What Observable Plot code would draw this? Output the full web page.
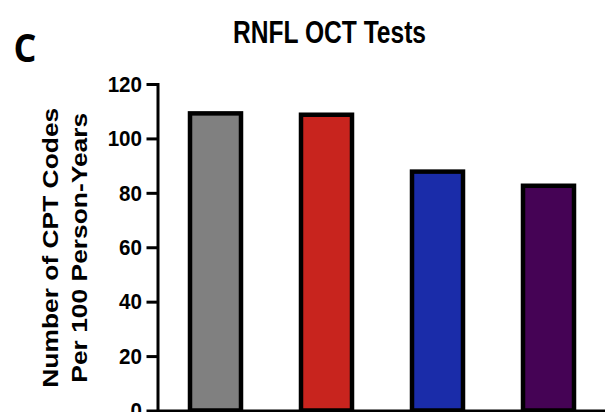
<!DOCTYPE html>
<html><head><meta charset="utf-8">
<script src="https://cdn.jsdelivr.net/npm/d3@7"></script>
<script src="https://cdn.jsdelivr.net/npm/@observablehq/plot@0.6"></script>
<style>html,body{margin:0;padding:0;background:#fff;overflow:hidden}</style>
</head><body><div id="chart"></div>
<script>
const categories = ["Group 1", "Group 2", "Group 3", "Group 4"];
const values = [109.2, 108.7, 87.8, 82.6];
const colors = ["#808080", "#c8241e", "#1a2ca9", "#450355"];
const yTicks = [0, 20, 40, 60, 80, 100, 120];
const title = "RNFL OCT Tests";
const panelLetter = "C";
const yLabelLine1 = "Number of CPT Codes";
const yLabelLine2 = "Per 100 Person-Years";

const data = categories.map((c, i) => ({category: c, value: values[i]}));
const ML = 157.5, MT = 84, MB = 29.5;

const plot = Plot.plot({
  width: 605, height: 440,
  marginLeft: ML, marginRight: 0, marginTop: MT, marginBottom: MB,
  style: {fontFamily: "'Liberation Sans', Arial, Helvetica, sans-serif", fontWeight: "bold", color: "#000", background: "#fff", overflow: "visible"},
  x: {domain: categories, range: [157.5, 606], paddingInner: 0.537, paddingOuter: 0.278, align: 0.5, axis: null},
  y: {domain: [0, 120], axis: null},
  color: {domain: categories, range: colors},
  marks: [
    Plot.barY(data, {x: "category", y: "value", fill: "category", stroke: "#000", strokeWidth: 4.5}),
    Plot.ruleY([0], {stroke: "#000", strokeWidth: 3}),
    Plot.frame({anchor: "left", stroke: "#000", strokeWidth: 3}),
    Plot.axisY({ticks: yTicks, tickSize: 11, tickPadding: 5, strokeWidth: 3, fontSize: 20.6, fontWeight: "bold", label: null}),
    Plot.text([title], {text: d => d, frameAnchor: "top-left", dx: 171.5, dy: -42, textAnchor: "middle", lineAnchor: "bottom", fontSize: 24.6, fontWeight: "bold"}),
    Plot.text([panelLetter], {text: d => d, frameAnchor: "top-left", dx: -144.5, dy: -22.5, textAnchor: "start", lineAnchor: "bottom", fontSize: 36, fontWeight: "bold", fontFamily: "'Open Sans', sans-serif"}),
    Plot.text([yLabelLine1], {text: d => d, frameAnchor: "left", dx: -100.1, dy: 0, rotate: -90, textAnchor: "middle", lineAnchor: "bottom", fontSize: 22, fontWeight: "bold"}),
    Plot.text([yLabelLine2], {text: d => d, frameAnchor: "left", dx: -70.8, dy: 0, rotate: -90, textAnchor: "middle", lineAnchor: "bottom", fontSize: 22, fontWeight: "bold"})
  ]
});

function stretchEl(t, s) {
  const tr = t.getAttribute("transform");
  if (tr && /^translate\(/.test(tr)) {
    t.setAttribute("transform", tr.replace(/^(translate\([^)]*\))/, `$1 scale(1,${s})`));
  } else {
    const x = +(t.getAttribute("x") || 0), y = +(t.getAttribute("y") || 0);
    t.setAttribute("transform", `translate(${x},${y}) scale(1,${s}) translate(${-x},${-y}) ${tr || ""}`);
  }
}
const textScale = new Map([[title, 1.24], [panelLetter, 1.1], [yLabelLine1, 1.2], [yLabelLine2, 1.2]]);
plot.querySelectorAll('g[aria-label="y-axis tick label"] text').forEach(t => stretchEl(t, 1.1));
plot.querySelectorAll('g[aria-label="text"] text').forEach(t => {
  const s = textScale.get(t.textContent);
  if (s) stretchEl(t, s);
});

document.getElementById("chart").appendChild(plot);
</script>
</body></html>
